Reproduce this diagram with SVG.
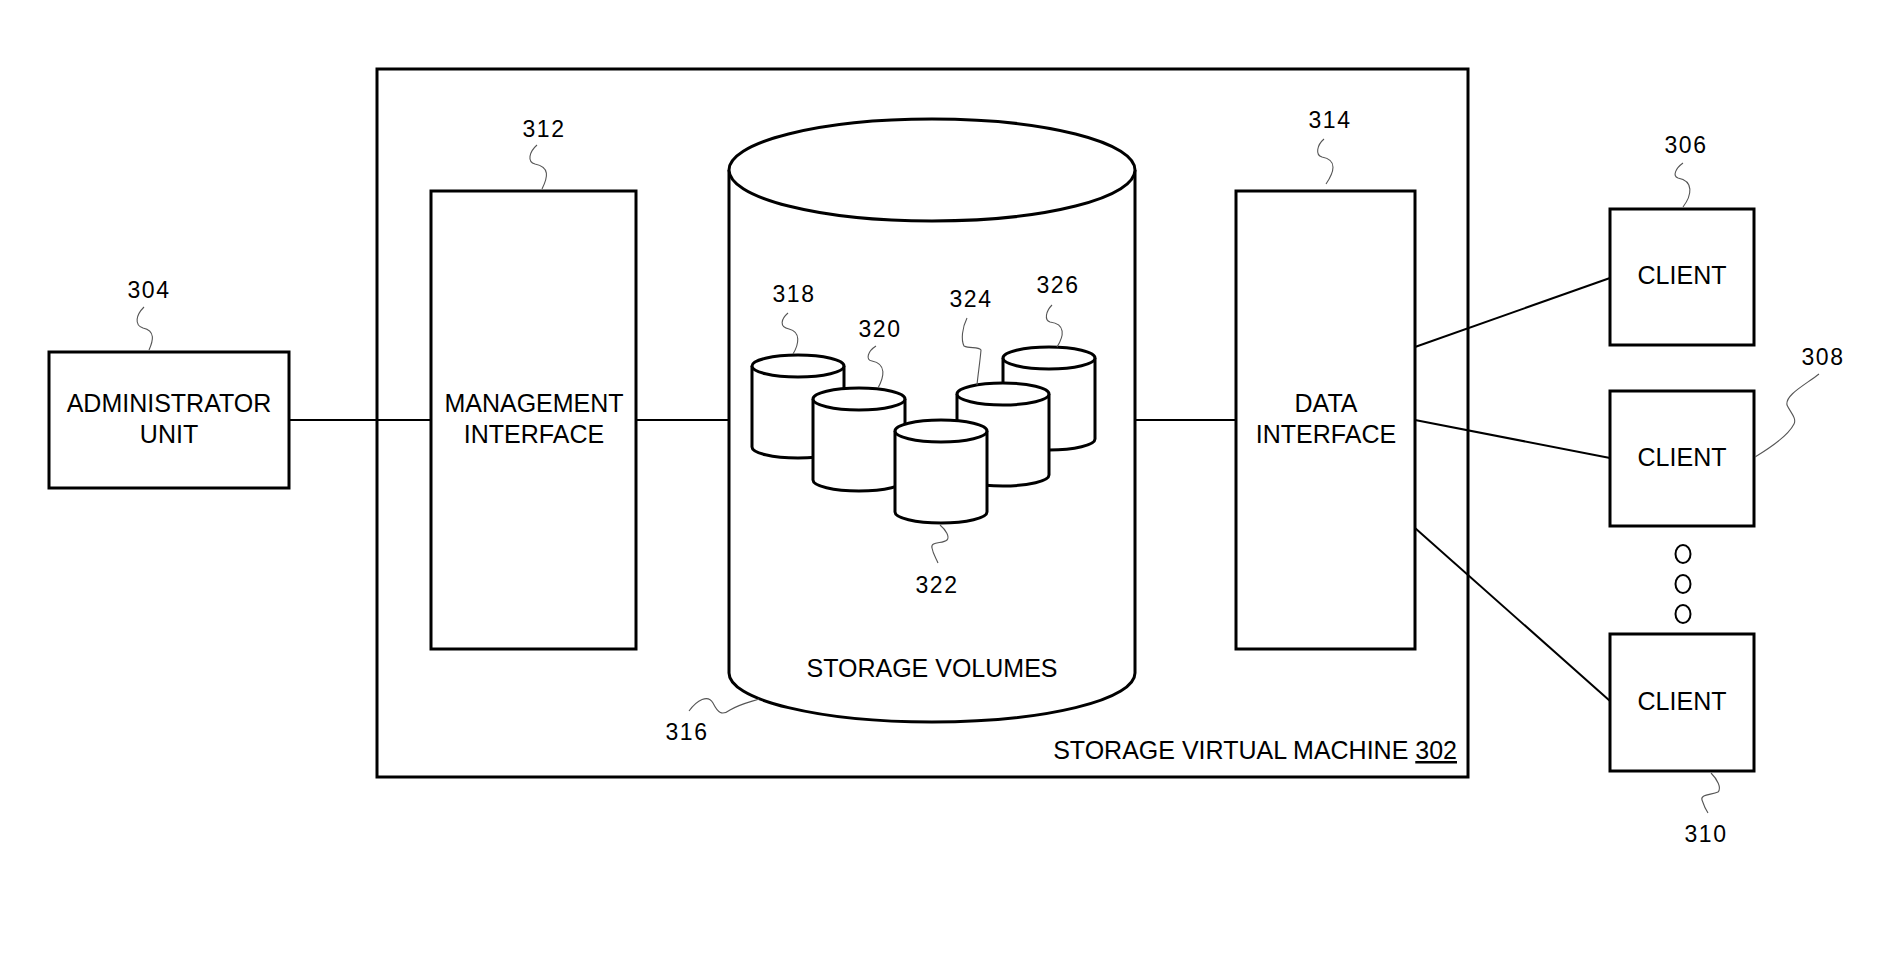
<svg xmlns="http://www.w3.org/2000/svg" width="1880" height="959" viewBox="0 0 1880 959">
<style>
.box{fill:#fff;stroke:#000;stroke-width:3}
.frame{fill:none;stroke:#000;stroke-width:3}
.cyl{fill:#fff;stroke:#000;stroke-width:3}
.conn{fill:none;stroke:#000;stroke-width:2}
.lead{fill:none;stroke:#555;stroke-width:1.1}
.t{font-family:"Liberation Sans",Arial,sans-serif;font-size:25px;fill:#000;text-anchor:middle}
.n{font-family:"Liberation Sans",Arial,sans-serif;font-size:23px;fill:#000;text-anchor:middle;letter-spacing:1.5px}
</style>
<rect width="1880" height="959" fill="#fff"/>

<g id="svm302">
<rect class="frame" x="377" y="69" width="1091" height="708"/>
<text class="t" x="1457" y="759" style="text-anchor:end">STORAGE VIRTUAL MACHINE <tspan text-decoration="underline">302</tspan></text>
</g>

<g id="connectors">
<line class="conn" x1="289" y1="420" x2="431" y2="420"/>
<line class="conn" x1="636" y1="420" x2="729" y2="420"/>
<line class="conn" x1="1135" y1="420" x2="1236" y2="420"/>
<line class="conn" x1="1415" y1="347" x2="1610" y2="278"/>
<line class="conn" x1="1415" y1="420" x2="1610" y2="458"/>
<line class="conn" x1="1415" y1="528" x2="1610" y2="701"/>
</g>

<g id="admin304">
<rect class="box" x="49" y="352" width="240" height="136"/>
<text class="t" x="169" y="412">ADMINISTRATOR</text>
<text class="t" x="169" y="443">UNIT</text>
<text class="n" x="149" y="298">304</text>
<path class="lead" d="M144 307 C136 315,134 325,143 328 C156 331,153 341,149 350"/>
</g>

<g id="mgmt312">
<rect class="box" x="431" y="191" width="205" height="458"/>
<text class="t" x="534" y="412">MANAGEMENT</text>
<text class="t" x="534" y="443">INTERFACE</text>
<text class="n" x="544" y="137">312</text>
<path class="lead" d="M537 145 C529 152,527 162,535 164 C550 167,548 177,542 189"/>
</g>

<g id="volumes316">
<path class="cyl" d="M729 170 L729 673 A203 49 0 0 0 1135 673 L1135 170"/>
<ellipse class="cyl" cx="932" cy="170" rx="203" ry="51"/>
<text class="t" x="932" y="677">STORAGE VOLUMES</text>
<text class="n" x="687" y="740">316</text>
<path class="lead" d="M689 711 C697 700,708 694,713 703 C718 713,722 716,730 710 C740 704,750 702,759 699"/>
</g>

<g id="vol318">
<path class="cyl" d="M752 366 L752 447 A46 11 0 0 0 844 447 L844 366"/>
<ellipse class="cyl" cx="798" cy="366" rx="46" ry="11"/>
<text class="n" x="794" y="302">318</text>
<path class="lead" d="M788 313 C781 319,779 327,789 329 C801 332,799 344,793 354"/>
</g>

<g id="vol326">
<path class="cyl" d="M1003 358 L1003 439 A46 11 0 0 0 1095 439 L1095 358"/>
<ellipse class="cyl" cx="1049" cy="358" rx="46" ry="11"/>
<text class="n" x="1058" y="293">326</text>
<path class="lead" d="M1052 305 C1046 311,1044 320,1050 322 C1066 324,1064 336,1057 347"/>
</g>

<g id="vol320">
<path class="cyl" d="M813 399 L813 480 A46 11 0 0 0 905 480 L905 399"/>
<ellipse class="cyl" cx="859" cy="399" rx="46" ry="11"/>
<text class="n" x="880" y="337">320</text>
<path class="lead" d="M876 346 C868 351,865 360,872 361 C887 364,884 377,878 388"/>
</g>

<g id="vol324">
<path class="cyl" d="M957 394 L957 475 A46 11 0 0 0 1049 475 L1049 394"/>
<ellipse class="cyl" cx="1003" cy="394" rx="46" ry="11"/>
<text class="n" x="971" y="307">324</text>
<path class="lead" d="M967 318 C962 328,961 340,964 346 C970 349,978 346,981 350 C980 362,978 374,977 385"/>
</g>

<g id="vol322">
<path class="cyl" d="M895 431 L895 512 A46 11 0 0 0 987 512 L987 431"/>
<ellipse class="cyl" cx="941" cy="431" rx="46" ry="11"/>
<text class="n" x="937" y="593">322</text>
<path class="lead" d="M940 525 C946 530,950 537,947 540 C943 544,930 541,932 548 C933 554,936 558,938 563"/>
</g>

<g id="data314">
<rect class="box" x="1236" y="191" width="179" height="458"/>
<text class="t" x="1326" y="412">DATA</text>
<text class="t" x="1326" y="443">INTERFACE</text>
<text class="n" x="1330" y="128">314</text>
<path class="lead" d="M1324 139 C1317 145,1315 155,1322 157 C1338 160,1334 172,1326 184"/>
</g>

<g id="client306">
<rect class="box" x="1610" y="209" width="144" height="136"/>
<text class="t" x="1682" y="284">CLIENT</text>
<text class="n" x="1686" y="153">306</text>
<path class="lead" d="M1683 163 C1676 168,1672 176,1678 178 C1694 181,1692 195,1683 207"/>
</g>

<g id="client308">
<rect class="box" x="1610" y="391" width="144" height="135"/>
<text class="t" x="1682" y="466">CLIENT</text>
<text class="n" x="1823" y="365">308</text>
<path class="lead" d="M1819 374 C1805 385,1785 395,1787 405 C1790 412,1797 418,1794 424 C1788 436,1770 448,1755 457"/>
</g>

<g id="ellipsis">
<ellipse cx="1683" cy="554" rx="7.5" ry="9" fill="none" stroke="#000" stroke-width="2"/>
<ellipse cx="1683" cy="584" rx="7.5" ry="9" fill="none" stroke="#000" stroke-width="2"/>
<ellipse cx="1683" cy="614" rx="7.5" ry="9" fill="none" stroke="#000" stroke-width="2"/>
</g>

<g id="client310">
<rect class="box" x="1610" y="634" width="144" height="137"/>
<text class="t" x="1682" y="710">CLIENT</text>
<text class="n" x="1706" y="842">310</text>
<path class="lead" d="M1711 773 C1717 779,1722 788,1718 792 C1712 795,1700 794,1702 800 C1704 806,1706 810,1708 813"/>
</g>
</svg>
